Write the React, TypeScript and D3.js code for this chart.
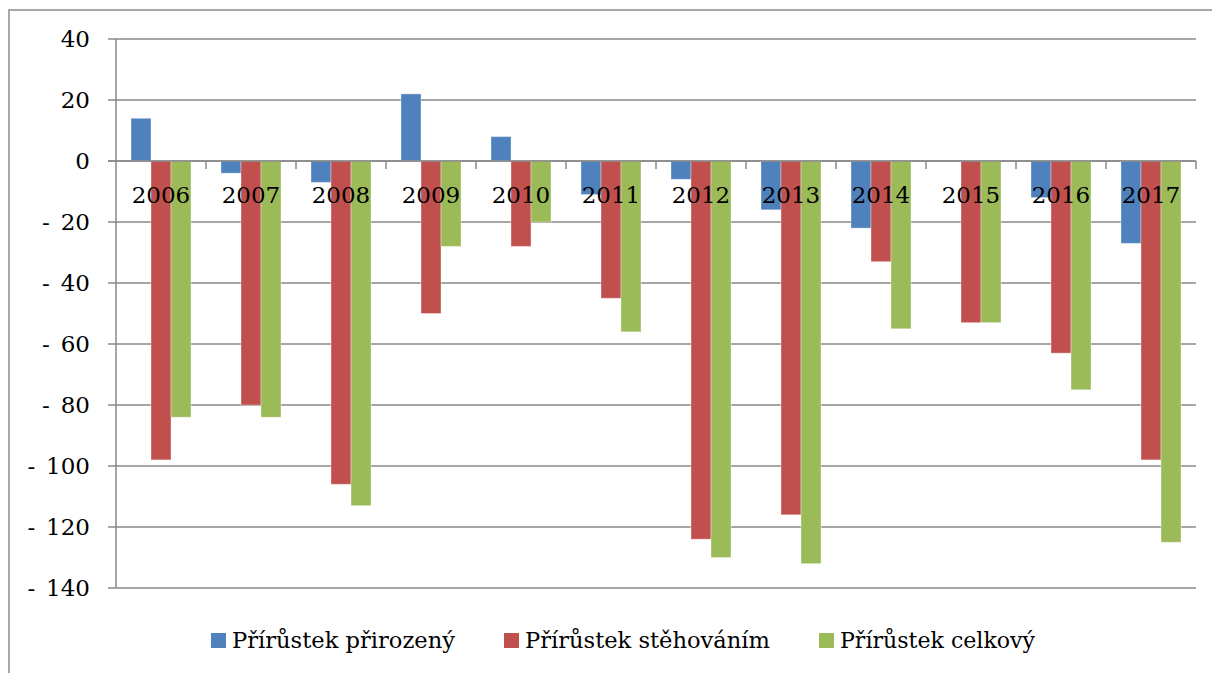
import React from "react";
import * as d3 from "d3";

const years = ["2006","2007","2008","2009","2010","2011","2012","2013","2014","2015","2016","2017"];
const seriesNames = ["Přírůstek přirozený","Přírůstek stěhováním","Přírůstek celkový"];
const natural = [14, -4, -7, 22, 8, -11, -6, -16, -22, 0, -12, -27];
const migration = [-98, -80, -106, -50, -28, -45, -124, -116, -33, -53, -63, -98];
const total = [-84, -84, -113, -28, -20, -56, -130, -132, -55, -53, -75, -125];
const yTicks = [40, 20, 0, -20, -40, -60, -80, -100, -120, -140];
const colors = ["#4F81BD", "#C0504D", "#9BBB59"];

const W = 1212, H = 673;
const left = 116, right = 1196, top = 39, bottom = 588;
const FONT = "'DejaVu Serif', serif";

export default function App() {
  const series = [natural, migration, total];
  const x = d3.scaleBand<string>().domain(years).range([left, right]).paddingInner(0).paddingOuter(0);
  const xs = d3.scaleBand<string>().domain(seriesNames).range([0, x.bandwidth()]).paddingInner(0).paddingOuter(0.75);
  const y = d3.scaleLinear().domain([-140, 40]).range([bottom, top]);
  const y0 = y(0);
  const legendX = [211, 504, 819];
  const legendLen = [223, 245, 195];
  const grid = "#898989";
  const digitW = 14.6;

  return (
    <svg width={W} height={H} style={{ position: "absolute", left: 0, top: 0, background: "#fff" }}>
      <rect x={9} y={10} width={W + 20} height={H + 20} fill="#fff" stroke="#8c8c8c" strokeWidth={1.5} />
      {yTicks.map((t) => (
        <line key={"g" + t} x1={left - 8} x2={right} y1={y(t)} y2={y(t)} stroke={grid} strokeWidth={1.5} />
      ))}
      <line x1={left} x2={left} y1={top} y2={bottom} stroke={grid} strokeWidth={1.5} />
      {yTicks.map((t) => {
        const s = String(Math.abs(t));
        return (
          <g key={"t" + t}>
            <text x={90} y={y(t)} dy="0.36em" textAnchor="end" fontFamily={FONT} fontSize={23} fill="#000">
              {s}
            </text>
            {t < 0 && (
              <text x={90 - s.length * digitW - 11} y={y(t)} dy="0.36em" textAnchor="end" fontFamily={FONT} fontSize={23} fill="#000">-</text>
            )}
          </g>
        );
      })}
      {series.map((vals, si) =>
        vals.map((v, i) => {
          const bx = (x(years[i]) as number) + (xs(seriesNames[si]) as number);
          const yy = Math.min(y(v), y0);
          const h = Math.abs(y(v) - y0);
          return (
            <rect key={si + "-" + i} x={bx} y={yy} width={xs.bandwidth()} height={h}
              fill={colors[si]} stroke="#ffffff" strokeOpacity={0.35} strokeWidth={1} />
          );
        })
      )}
      <line x1={left - 8} x2={right} y1={y0} y2={y0} stroke={grid} strokeWidth={1.5} />
      {years.map((yr) => (
        <line key={"tk" + yr} x1={(x(yr) as number) + x.bandwidth()} x2={(x(yr) as number) + x.bandwidth()}
          y1={y0} y2={y0 + 8} stroke={grid} strokeWidth={1.5} />
      ))}
      {years.map((yr) => (
        <text key={"y" + yr} x={(x(yr) as number) + x.bandwidth() / 2} y={203} textAnchor="middle"
          fontFamily={FONT} fontSize={23} fill="#000">
          {yr}
        </text>
      ))}
      {seriesNames.map((n, i) => (
        <g key={"l" + n}>
          <rect x={legendX[i]} y={633} width={15} height={15} fill={colors[i]} />
          <text x={legendX[i] + 21} y={648} fontFamily={FONT} fontSize={22} fill="#000"
            textLength={legendLen[i]} lengthAdjust="spacingAndGlyphs">{n}</text>
        </g>
      ))}
    </svg>
  );
}
